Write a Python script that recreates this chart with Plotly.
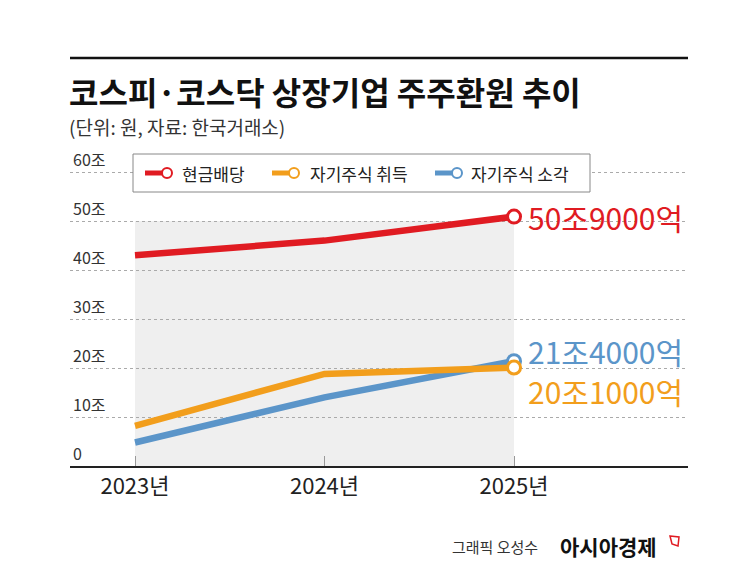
import plotly.graph_objects as go

# data (unit: 조 원)
years = [2023, 2024, 2025]
cash_div = [43.0, 46.0, 50.9]
buyback = [8.2, 18.8, 20.1]
retire = [4.8, 14.0, 21.4]
y_ticks = [0, 10, 20, 30, 40, 50, 60]
y_tick_text = ["0", "10조", "20조", "30조", "40조", "50조", "60조"]
x_tick_text = ["2023년", "2024년", "2025년"]
names = ["현금배당", "자기주식 취득", "자기주식 소각"]
end_labels = ["50조9000억", "20조1000억", "21조4000억"]

FONT = "Noto Sans CJK KR"
W, H = 745, 578
OFF = 8  # the page body margin shifts the figure by this much
# plot area in screen pixels
P_L, P_R, P_T, P_B = 70, 688, 132, 466
RED, ORANGE, BLUE = "#e01b22", "#f29e1c", "#5b95c9"
Y_TOP = 60 * (P_B - P_T) / (P_B - 172)  # 60조 gridline sits at y=172


def px(x, y):
    # screen pixel -> paper coords
    return (x - P_L) / (P_R - P_L), (P_B - y) / (P_B - P_T)


fig = go.Figure()

series = [
    (cash_div, RED, 0, 0),
    (retire, BLUE, 2, 10),
    (buyback, ORANGE, 1, -23),
]
for vals, col, i, shift in series:
    n = len(vals)
    fig.add_trace(go.Scatter(
        x=years, y=vals, name=names[i], mode="lines+markers",
        line=dict(color=col, width=6.5),
        marker=dict(size=13, symbol="circle",
                    color=["rgba(0,0,0,0)"] * (n - 1) + ["white"],
                    line=dict(width=3, color=["rgba(0,0,0,0)"] * (n - 1) + [col])),
        showlegend=False, hoverinfo="skip",
    ))
    fig.add_annotation(x=years[-1], y=vals[-1], xref="x", yref="y",
                       text=end_labels[i], showarrow=False, borderpad=0,
                       xanchor="left", xshift=13, yshift=shift,
                       font=dict(family=FONT, size=30, color=col))

# gray band behind the lines
fig.add_shape(type="rect", xref="x", yref="y", x0=years[0], x1=years[-1],
              y0=0, y1=50, fillcolor="#efefef", line_width=0, layer="below")

# legend box drawn by hand
bx0, by0 = px(133, 192)
bx1, by1 = px(590, 154)
fig.add_shape(type="rect", xref="paper", yref="paper", x0=bx0, x1=bx1, y0=by0, y1=by1,
              fillcolor="white", line=dict(color="#888", width=1))
for name, col, sym_x, txt_x in zip(names, [RED, ORANGE, BLUE], [145, 272, 435], [180, 308, 469]):
    ax, ay = px(sym_x, 173)
    cx, _ = px(sym_x + 22, 173)
    fig.add_shape(type="line", xref="paper", yref="paper", x0=ax, x1=cx, y0=ay, y1=ay,
                  line=dict(color=col, width=5))
    c0x, c0y = px(sym_x + 17, 178)
    c1x, c1y = px(sym_x + 27, 168)
    fig.add_shape(type="circle", xref="paper", yref="paper", x0=c0x, x1=c1x, y0=c0y, y1=c1y,
                  fillcolor="white", line=dict(color=col, width=2))
    tx, ty = px(txt_x, 173)
    fig.add_annotation(x=tx, y=ty, xref="paper", yref="paper", xanchor="left", yanchor="middle",
                       text=name, showarrow=False,
                       font=dict(family=FONT, size=17, color="#222"))

# top rule
x0, y0 = px(70, 58)
x1, _ = px(688, 58)
fig.add_shape(type="line", xref="paper", yref="paper", x0=x0, x1=x1, y0=y0, y1=y0,
              line=dict(color="#111", width=2.5))

tx, ty = px(68, 91)
fig.add_annotation(x=tx, y=ty, xref="paper", yref="paper", xanchor="left", yanchor="middle",
                   text="<b>코스피·코스닥 상장기업 주주환원 추이</b>", showarrow=False, borderpad=0,
                   font=dict(family=FONT, size=32, color="#111"))
sx, sy = px(68, 127)
fig.add_annotation(x=sx, y=sy, xref="paper", yref="paper", xanchor="left", yanchor="middle",
                   text="(단위: 원, 자료: 한국거래소)", showarrow=False, borderpad=0,
                   font=dict(family=FONT, size=19, color="#333"))

cx, cy = px(540, 546)
fig.add_annotation(x=cx, y=cy, xref="paper", yref="paper", xanchor="right", yanchor="middle",
                   text="그래픽 오성수", showarrow=False,
                   font=dict(family=FONT, size=15, color="#333"))
cx, cy = px(558, 546)
fig.add_annotation(x=cx, y=cy, xref="paper", yref="paper", xanchor="left", yanchor="middle",
                   text="<b>아시아경제</b>", showarrow=False,
                   font=dict(family=FONT, size=21, color="#111"))
pts = [px(670, 536), px(679, 537), px(678, 546), px(672, 544)]
path = "M " + " L ".join(f"{a},{b}" for a, b in pts) + " Z"
fig.add_shape(type="path", xref="paper", yref="paper", path=path,
              line=dict(color=RED, width=1.5), fillcolor="rgba(0,0,0,0)")

fig.update_layout(
    width=W, height=H,
    margin=dict(l=P_L - OFF, r=W - (P_R - OFF), t=P_T - OFF, b=H - (P_B - OFF), autoexpand=False),
    paper_bgcolor="white", plot_bgcolor="white",
    font=dict(family=FONT, color="#222"),
    showlegend=False,
    xaxis=dict(range=[2022.657, 2025.918], tickvals=years, ticktext=x_tick_text,
               showgrid=False, zeroline=False, showline=True, linecolor="#222", linewidth=2,
               ticks="inside", ticklen=10, tickcolor="#999", tickwidth=1,
               tickfont=dict(family=FONT, size=22, color="#222"), fixedrange=True),
    yaxis=dict(range=[0, Y_TOP], tickvals=y_ticks, ticktext=y_tick_text,
               showgrid=True, gridcolor="#aaa", griddash="dot", gridwidth=1,
               zeroline=False, showline=False, ticks="",
               ticklabelposition="inside top",
               tickfont=dict(family=FONT, size=16, color="#333"), fixedrange=True),
)

fig.write_html("out.html")
